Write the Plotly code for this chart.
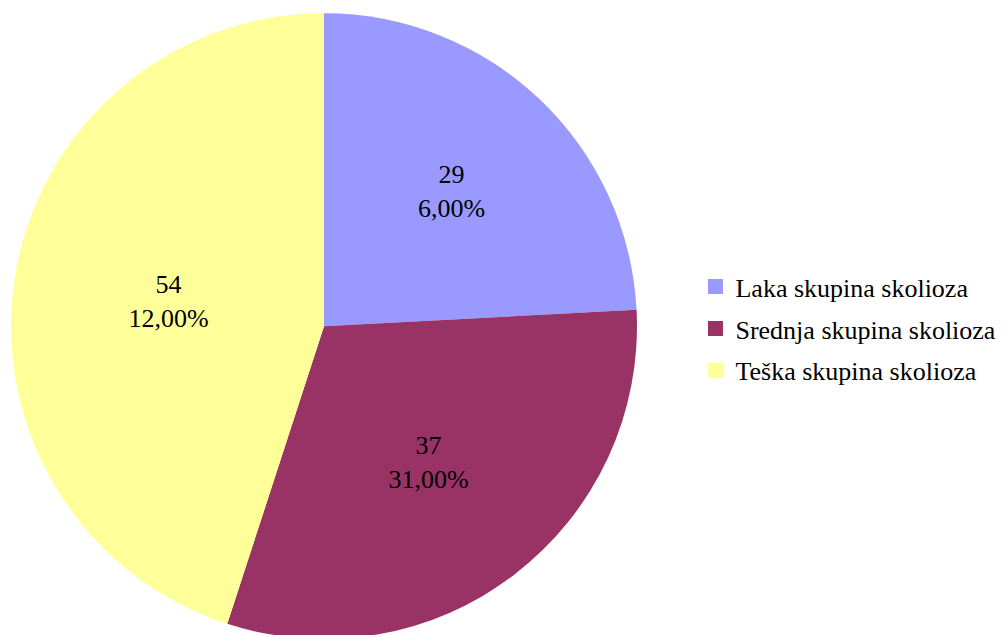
import plotly.graph_objects as go

groups = ['Laka skupina skolioza', 'Srednja skupina skolioza', 'Teška skupina skolioza']
counts = [29, 37, 54]
pct_labels = ['6,00%', '31,00%', '12,00%']
colors = ['#9999FF', '#993366', '#FFFF99']

font = 'Liberation Serif, Times New Roman, serif'

fig = go.Figure()
fig.add_trace(go.Pie(
    labels=groups,
    values=counts,
    text=[f'{c}<br>{p}' for c, p in zip(counts, pct_labels)],
    textinfo='text',
    textposition='inside',
    insidetextorientation='horizontal',
    sort=False,
    direction='clockwise',
    rotation=0,
    marker=dict(colors=colors, line=dict(width=0)),
    textfont=dict(family=font, size=26, color='black'),
    showlegend=False,
    hoverinfo='label+value',
    domain=dict(x=[0.003, 0.624], y=[0.006, 0.992]),
))

# legend entries, spaced like the original
for g, c in zip(groups, colors):
    fig.add_trace(go.Scatter(
        x=[None], y=[None], mode='markers', name=g, legendgroup=g,
        marker=dict(symbol='square', size=15, color=c),
    ))

fig.update_layout(
    width=1008, height=635,
    margin=dict(l=0, r=0, t=0, b=0),
    paper_bgcolor='white', plot_bgcolor='white',
    xaxis=dict(visible=False), yaxis=dict(visible=False),
    font=dict(family=font, size=26, color='black'),
    legend=dict(x=0.682, y=0.495, xanchor='left', yanchor='middle',
                tracegroupgap=5, itemwidth=30,
                font=dict(family=font, size=26, color='black')),
)

fig.write_html('out.html')
